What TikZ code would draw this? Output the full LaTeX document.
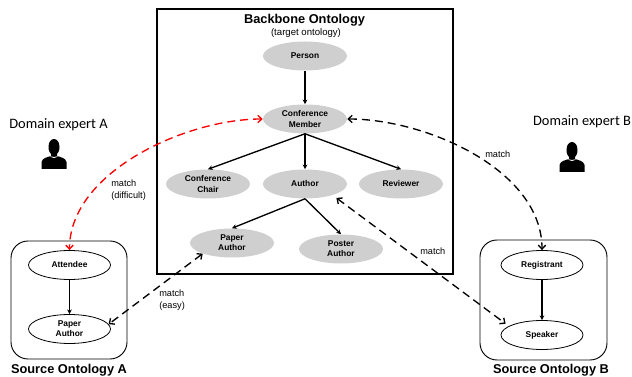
\documentclass[tikz,border=0pt]{standalone}
\usepackage{fontspec}
\setmainfont{Liberation Sans}
\newfontfamily\expertfont{Carlito}
\usetikzlibrary{arrows.meta,shapes.geometric}
\def\pxu{*0.75pt}
\tikzset{
  concept/.style={ellipse,fill=black!19,minimum width=84\pxu,minimum height=29\pxu,inner sep=0pt,align=center,font=\fontsize{6.3}{7.6}\selectfont\bfseries},
  source/.style={ellipse,draw,line width=0.6pt,minimum width=82\pxu,minimum height=29\pxu,inner sep=0pt,align=center,font=\fontsize{6.3}{7.6}\selectfont\bfseries},
  isa/.style={line width=1pt,-{Stealth[length=3.5pt,width=3.5pt]}},
  match/.style={line width=1pt,dash pattern=on 6pt off 3.75pt,{Straight Barb[length=3pt,width=5.5pt]}-{Straight Barb[length=3pt,width=5.5pt]}},
  note/.style={font=\fontsize{6.9}{9}\selectfont,align=left,inner sep=0pt,anchor=west},
  title/.style={font=\fontsize{9.6}{11}\selectfont\bfseries,inner sep=0pt},
  expert/.style={font=\expertfont\fontsize{10.8}{12}\selectfont,inner sep=0pt},
}
% head and shoulders of an expert
\newcommand{\expertman}[2]{
\fill[black] (#1-5.5,#2-12) .. controls (#1-5.5,#2-17) and (#1-3,#2-20) .. (#1,#2-20)
 .. controls (#1+3,#2-20) and (#1+5.5,#2-17) .. (#1+5.5,#2-12)
 .. controls (#1+5.5,#2-8) and (#1+4,#2-6) .. (#1+3,#2-5)
 -- (#1+3,#2-3) .. controls (#1+6,#2-2) and (#1+12,#2-1) .. (#1+12.5,#2+3)
 -- (#1+12.5,#2+10) -- (#1-12.5,#2+10) -- (#1-12.5,#2+3)
 .. controls (#1-12,#2-1) and (#1-6,#2-2) .. (#1-3,#2-3)
 -- (#1-3,#2-5) .. controls (#1-4,#2-6) and (#1-5.5,#2-8) .. (#1-5.5,#2-12) -- cycle;
\fill[white] (#1-4,#2-3) .. controls (#1-2,#2-0.5) and (#1+2,#2-0.5) .. (#1+4,#2-3)
 .. controls (#1+2,#2-1.8) and (#1-2,#2-1.8) .. (#1-4,#2-3) -- cycle;
}

\begin{document}
\begin{tikzpicture}[x=0.75pt,y=-0.75pt]
\useasboundingbox (0,0) rectangle (632,377);

%backbone
\node[draw,line width=1pt,minimum width=296\pxu,minimum height=265\pxu,inner sep=0pt] (backbone) at (305,141.5) {};
\node[title] (backbonetitle) at (304.5,20) {Backbone Ontology};
\node[font=\fontsize{7.2}{8}\selectfont,inner sep=0pt] (backbonesub) at (306,33) {(target ontology)};

\node[concept] (person) at (305,56) {Person};
\node[concept] (member) at (305,119) {Conference\\Member};
\node[concept] (chair) at (208,184) {Conference\\Chair};
\node[concept] (author) at (305,184) {Author};
\node[concept] (reviewer) at (401,184) {Reviewer};
\node[concept] (paper) at (232,243) {Paper\\Author};
\node[concept] (poster) at (341,249) {Poster\\Author};

\draw[isa] (person) -- (member);
\draw[isa] (member.south) -- (chair.north);
\draw[isa] (member.south) -- (author.north);
\draw[isa] (member.south) -- (reviewer.north);
\draw[isa] (author.south) -- (paper.north);
\draw[isa] (author.south) -- (poster.north);

%source a
\node[draw,line width=0.7pt,rounded corners=17\pxu,minimum width=116\pxu,minimum height=118\pxu,inner sep=0pt] (boxa) at (69,300) {};
\node[title] (titlea) at (69,370) {Source Ontology A};
\node[source] (attendee) at (69.5,265) {Attendee};
\node[source] (papera) at (69.5,329) {Paper\\Author};
\draw[isa] (attendee) -- (papera);

%source b
\node[draw,line width=0.7pt,rounded corners=17\pxu,minimum width=127\pxu,minimum height=120\pxu,inner sep=0pt] (boxb) at (543.5,300) {};
\node[title] (titleb) at (551,370) {Source Ontology B};
\node[source] (registrant) at (542,265) {Registrant};
\node[source] (speaker) at (542,335) {Speaker};
\draw[isa] (registrant) -- (speaker);

%matches
\draw[match,red] (member.west) to[out=180,in=90,looseness=0.85] (attendee.north);
\draw[match] (member.east) to[out=0,in=90,looseness=0.87] (registrant.north);
\draw[match,shorten <=3.5pt,shorten >=3pt] (author.-22) -- (speaker.165);
\draw[match] (paper.200) -- (papera.7);

\node[note] (matchd) at (111,190) {match\\(difficult)};
\node[note] (matche) at (159,300.5) {match\\(easy)};
\node[note] (matchb) at (485,154) {match};
\node[note] (matchs) at (420,251) {match};

%experts
\node[expert] (experta) at (58.5,125) {Domain expert A};
\node[expert] (expertb) at (582,122) {Domain expert B};
\expertman{54}{159}
\expertman{572}{162}
\end{tikzpicture}
\end{document}
